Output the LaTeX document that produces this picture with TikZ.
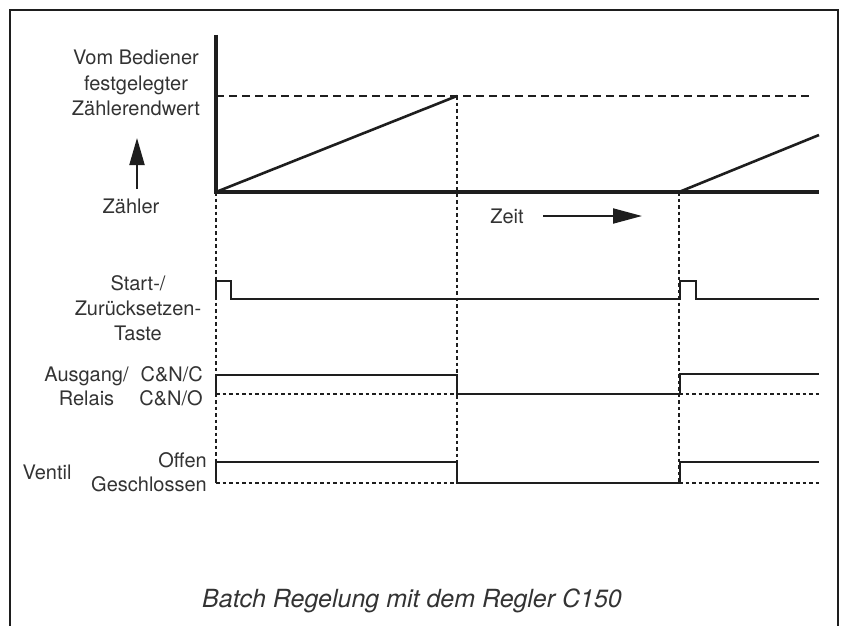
\documentclass[tikz,border=0pt]{standalone}
\usepackage{fontspec}
\setmainfont{TeX Gyre Heros}
\usetikzlibrary{arrows.meta}
\definecolor{ink}{HTML}{1E1E1E}
\definecolor{txt}{HTML}{333333}
\begin{document}
\begin{tikzpicture}[x=1pt,y=-1pt,
  lbl/.style={inner sep=0pt,anchor=base,text=txt,font=\fontsize{20}{24}\selectfont},
  axisline/.style={draw=ink,line width=3.2pt},
  sig/.style={draw=ink,line width=2.6pt,line join=miter},
  guide/.style={draw=ink,line width=1.2pt,dash pattern=on 3.5pt off 3pt},
  level/.style={draw=ink,line width=1.1pt,dash pattern=on 8pt off 5pt},
  framel/.style={draw=ink,line width=2.6pt}]
\useasboundingbox (0,0) rectangle (846,626);
% frame
\draw[framel] (10,628) -- (10,10) -- (838,10) -- (838,628);
% named coordinates
\coordinate (o) at (216,192);
\coordinate (ytop) at (216,35);
\coordinate (xend) at (819,192);
\coordinate (p1) at (457,96);
\coordinate (p2) at (679,192);
\coordinate (p3) at (819,135);
% level line and guides
\draw[level] (216,96) -- (813,96);
\draw[guide] (o) -- (216,484);
\draw[guide] (p1) -- (457,484);
\draw[guide] (p2) -- (679,484);
% dotted low levels
\draw[guide] (216,394) -- (457,394);
\draw[guide] (679,394) -- (819,394);
\draw[guide] (216,483) -- (457,483);
\draw[guide] (679,483) -- (819,483);
% axes
\draw[axisline] (ytop) -- (o) -- (xend);
% ramps
\draw[sig] (o) -- (p1);
\draw[sig] (p2) -- (p3);
% start pulse
\draw[sig] (216,300) -- (216,281) -- (231,281) -- (231,299) -- (680,299) -- (680,281) -- (696,281) -- (696,299) -- (819,299);
% Ausgang
\draw[sig] (216,394) -- (216,375) -- (457,375) -- (457,394) -- (680,394) -- (680,374) -- (819,374);
% Ventil
\draw[sig] (216,483) -- (216,462) -- (457,462) -- (457,483) -- (680,483) -- (680,462) -- (819,462);
% labels top
\node[lbl] (t1) at (136,64) {Vom Bediener};
\node[lbl] (t2) at (136,90) {festgelegter};
\node[lbl] (t3) at (136,115) {Zählerendwert};
\node[lbl] (zl) at (131,213) {Zähler};
\coordinate (ua) at (137,189);
\coordinate (ub) at (137,138);
\draw[draw=ink,line width=2pt,-{Triangle[length=27pt,width=15pt]}] (ua) -- (ub);
% Zeit
\node[lbl] (zeit) at (507,223) {Zeit};
\coordinate (za) at (543,216);
\coordinate (zb) at (642,216);
\draw[draw=ink,line width=2pt,-{Triangle[length=29pt,width=15pt]}] (za) -- (zb);
% Start labels
\node[lbl] (s1) at (138,290) {Start-/};
\node[lbl] (s2) at (138,315) {Zurücksetzen-};
\node[lbl] (s3) at (138,340) {Taste};
% Ausgang labels
\node[lbl] (a1) at (86.5,381) {Ausgang/};
\node[lbl] (a2) at (86.5,405) {Relais};
\node[lbl,anchor=base east] (c1) at (203,381) {C\&N/C};
\node[lbl,anchor=base east] (c2) at (203,405) {C\&N/O};
% Ventil labels
\node[lbl] (v0) at (47,479) {Ventil};
\node[lbl,anchor=base east] (v1) at (207,467) {Offen};
\node[lbl,anchor=base east] (v2) at (207,491) {Geschlossen};
% caption
\node[lbl,font=\fontsize{25}{29}\selectfont\itshape] (cap) at (412,607) {Batch Regelung mit dem Regler C150};
\end{tikzpicture}
\end{document}
